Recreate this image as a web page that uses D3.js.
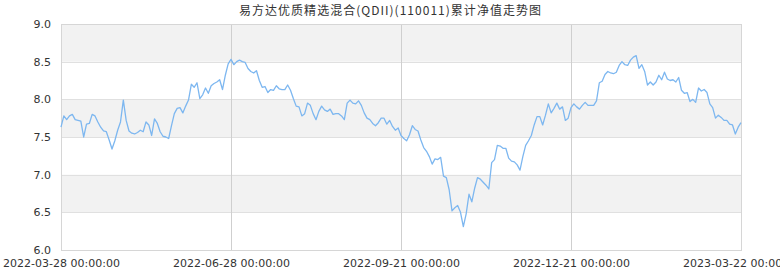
<!DOCTYPE html>
<html>
<head>
<meta charset="utf-8">
<script src="https://cdn.jsdelivr.net/npm/d3@7"></script>
<style>
  html, body { margin: 0; padding: 0; background: #fff; }
</style>
</head>
<body>
<div id="rootDiv"></div>
<script>
const title = '易方达优质精选混合(QDII)(110011)累计净值走势图'

// trading-day index of each reading, and accumulated NAV at that day
const days = [
    0, 1, 2, 3, 4, 5, 7, 8, 9, 10, 11, 12, 13, 14, 15, 16, 17, 18, 19, 20,
    21, 22, 23, 24, 25, 26, 27, 28, 29, 30, 31, 32, 33, 34, 35, 36, 37, 38, 39, 40,
    41, 42, 43, 44, 45, 46, 47, 48, 49, 50, 51, 52, 53, 54, 55, 56, 57, 58, 59, 60,
    61, 62, 63, 64, 65, 66, 67, 68, 69, 70, 71, 72, 73, 74, 75, 76, 77, 78, 79, 80,
    81, 82, 83, 84, 85, 86, 87, 88, 89, 90, 91, 92, 93, 94, 95, 96, 97, 98, 99, 100,
    101, 102, 103, 104, 105, 106, 107, 108, 109, 110, 111, 112, 113, 114, 115, 116, 117, 118, 119, 120,
    121, 122, 123, 124, 125, 126, 127, 128, 129, 130, 131, 132, 133, 134, 135, 136, 137, 138, 139, 140,
    141, 142, 143, 144, 145, 146, 147, 148, 149, 150, 151, 152, 153, 154, 155, 156, 157, 158, 159, 160,
    161, 162, 163, 164, 165, 166, 167, 168, 169, 170, 171, 172, 173, 174, 175, 176, 177, 178, 179, 180,
    181, 182, 183, 184, 185, 186, 187, 188, 189, 190, 191, 192, 193, 194, 195, 196, 197, 198, 199, 200,
    201, 202, 203, 204, 205, 206, 207, 208, 209, 210, 211, 212, 213, 214, 215, 216, 217, 218, 219, 220,
    221, 222, 223, 224, 225, 226, 227, 228, 229, 230, 231, 232, 233, 234, 235, 236, 237, 238, 239, 240
]
const navs = [
    7.63, 7.78, 7.73, 7.78, 7.80, 7.73, 7.71, 7.50, 7.67, 7.68, 7.80, 7.78, 7.70, 7.63, 7.58, 7.57, 7.46, 7.34, 7.45, 7.59,
    7.70, 7.99, 7.72, 7.58, 7.55, 7.54, 7.56, 7.59, 7.57, 7.70, 7.66, 7.52, 7.74, 7.68, 7.57, 7.51, 7.50, 7.48, 7.65, 7.81,
    7.88, 7.89, 7.82, 7.91, 7.99, 8.20, 8.16, 8.22, 8.01, 8.06, 8.15, 8.08, 8.18, 8.21, 8.23, 8.26, 8.13, 8.32, 8.47, 8.53,
    8.46, 8.50, 8.52, 8.50, 8.49, 8.41, 8.37, 8.35, 8.38, 8.25, 8.16, 8.17, 8.09, 8.13, 8.12, 8.18, 8.14, 8.13, 8.13, 8.19,
    8.12, 8.01, 7.91, 7.90, 7.78, 7.81, 7.95, 7.92, 7.81, 7.73, 7.84, 7.91, 7.86, 7.84, 7.87, 7.80, 7.81, 7.81, 7.78, 7.73,
    7.95, 7.99, 7.95, 7.94, 7.98, 7.92, 7.82, 7.75, 7.73, 7.68, 7.65, 7.69, 7.75, 7.75, 7.67, 7.72, 7.64, 7.59, 7.62, 7.52,
    7.48, 7.45, 7.53, 7.65, 7.60, 7.58, 7.46, 7.36, 7.31, 7.24, 7.14, 7.21, 7.20, 7.23, 6.98, 6.96, 6.80, 6.52, 6.56, 6.59,
    6.50, 6.31, 6.48, 6.74, 6.64, 6.82, 6.96, 6.94, 6.90, 6.86, 6.81, 7.16, 7.20, 7.39, 7.38, 7.35, 7.35, 7.22, 7.18, 7.17,
    7.13, 7.06, 7.24, 7.39, 7.45, 7.52, 7.66, 7.77, 7.77, 7.66, 7.79, 7.94, 7.82, 7.88, 7.95, 7.87, 7.90, 7.72, 7.75, 7.89,
    7.94, 7.90, 7.87, 7.92, 7.96, 7.92, 7.92, 7.92, 7.98, 8.22, 8.24, 8.33, 8.37, 8.35, 8.34, 8.36, 8.45, 8.50, 8.46, 8.45,
    8.52, 8.56, 8.58, 8.41, 8.46, 8.37, 8.19, 8.23, 8.19, 8.23, 8.32, 8.26, 8.36, 8.27, 8.25, 8.26, 8.23, 8.29, 8.12, 8.08,
    8.09, 7.97, 8.00, 7.96, 8.15, 8.11, 8.13, 8.09, 7.94, 7.89, 7.75, 7.79, 7.76, 7.72, 7.72, 7.67, 7.66, 7.54, 7.63, 7.69,
    7.70
]
const xTickDays = [0, 60, 120, 180, 240]
const xTickLabels = ['2022-03-28 00:00:00', '2022-06-28 00:00:00', '2022-09-21 00:00:00', '2022-12-21 00:00:00', '2023-03-22 00:00:00']
const yTicks = [6.0, 6.5, 7.0, 7.5, 8.0, 8.5, 9.0]

const W = 780, H = 270
const margin = { top: 24, right: 39, bottom: 20, left: 61 }
const width = W - margin.left - margin.right
const height = H - margin.top - margin.bottom

const x = d3.scaleLinear().domain([0, 240]).range([0, width])
const y = d3.scaleLinear().domain([6, 9]).range([height, 0])

const svgBase = d3.select('#rootDiv').append('svg')
    .attr('width', W)
    .attr('height', H)
    .style('display', 'block')

svgBase.append('text')
    .attr('x', W / 2)
    .attr('y', 15)
    .attr('text-anchor', 'middle')
    .attr('font-family', '"Noto Sans CJK SC", sans-serif')
    .attr('font-size', 12)
    .attr('fill', '#333')
    .attr('textLength', 302)
    .attr('lengthAdjust', 'spacing')
    .text(title)

const svg = svgBase.append('g').attr('transform', `translate(${margin.left},${margin.top})`)

// alternating bands (top band shaded)
const bands = d3.pairs(yTicks).filter((d, i) => i % 2 === 1)
svg.selectAll('rect.band')
    .data(bands)
    .enter()
    .append('rect')
    .attr('class', 'band')
    .attr('x', 0)
    .attr('width', width)
    .attr('y', d => y(d[1]))
    .attr('height', d => y(d[0]) - y(d[1]))
    .attr('fill', '#f2f2f2')

// horizontal grid
svg.append('g')
    .call(d3.axisLeft(y).tickValues(yTicks).tickSize(-width).tickFormat(''))
    .call(g => g.select('.domain').remove())
    .call(g => g.selectAll('line').attr('stroke', '#e0e0e0').attr('shape-rendering', 'crispEdges'))

// vertical grid at category labels
svg.append('g')
    .attr('transform', `translate(0,${height})`)
    .call(d3.axisBottom(x).tickValues(xTickDays).tickSize(height).tickFormat(''))
    .attr('transform', 'translate(0,0)')
    .call(g => g.select('.domain').remove())
    .call(g => g.selectAll('line').attr('stroke', '#cfcfcf').attr('shape-rendering', 'crispEdges'))

// frame
svg.append('rect')
    .attr('x', 0)
    .attr('y', 0)
    .attr('width', width)
    .attr('height', height)
    .attr('fill', 'none')
    .attr('stroke', '#d6d6d6')
    .attr('shape-rendering', 'crispEdges')

const points = days.map((d, i) => ({ day: d, nav: navs[i] }))
const line = d3.line()
    .x(d => x(d.day))
    .y(d => y(d.nav))

svg.append('path')
    .datum(points)
    .attr('d', line)
    .attr('fill', 'none')
    .attr('stroke', '#7db7f0')
    .attr('stroke-width', 1.3)
    .attr('stroke-linejoin', 'round')

// y axis labels
const yAxis = svg.append('g')
    .call(d3.axisLeft(y).tickValues(yTicks).tickSize(0).tickPadding(10).tickFormat(d3.format('.1f')))
yAxis.select('.domain').remove()

// x axis labels
const xAxis = svg.append('g')
    .attr('transform', `translate(0,${height})`)
    .call(d3.axisBottom(x).tickValues(xTickDays).tickSize(0).tickPadding(9).tickFormat((d, i) => xTickLabels[i]))
xAxis.select('.domain').remove()

for (const axis of [xAxis, yAxis]) {
    axis.selectAll('text')
        .attr('font-family', '"DejaVu Sans", sans-serif')
        .attr('font-size', 11)
        .attr('fill', '#333')
}
</script>
</body>
</html>
